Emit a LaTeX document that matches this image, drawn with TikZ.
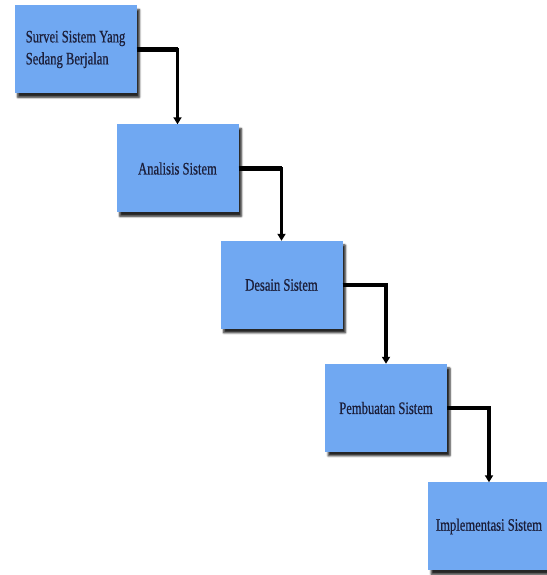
\documentclass[tikz,border=0pt]{standalone}
\usepackage{fontspec}
\setmainfont[FakeStretch=0.72,FakeBold=0.6]{Liberation Serif}
\usetikzlibrary{shadows,arrows.meta,shadows.blur}
\definecolor{stepfill}{HTML}{70A8F2}
\definecolor{steptext}{HTML}{1C1F3A}
\tikzset{
  stepbox/.style={draw=none, fill=stepfill, minimum width=122pt, minimum height=88pt,
    inner sep=0pt, align=center, font=\fontsize{17.5}{22}\selectfont\color{steptext},
    blur shadow={shadow xshift=3pt, shadow yshift=-4pt, shadow blur steps=6, shadow opacity=85, shadow blur extra rounding=0.5pt}},
  flow/.style={line width=3.2pt, -{Triangle[width=8pt,length=7pt]}, black},
  flowbar/.style={line width=4.5pt, black}
}
\begin{document}
\begin{tikzpicture}[x=1pt,y=1pt]
\useasboundingbox (0,0) rectangle (546,575);
\node[stepbox, align=left] (s1) at (75.5,525.5) {Survei Sistem Yang\\Sedang Berjalan};
\node[stepbox] (s2) at (177.5,406.5) {Analisis Sistem};
\node[stepbox] (s3) at (281.5,290) {Desain Sistem};
\node[stepbox] (s4) at (386,167) {Pembuatan Sistem};
\node[stepbox] (s5) at (489,48.5) {Implementasi Sistem};
% elbow connectors, with a heavier horizontal leg
\foreach \a/\b in {s1/s2, s2/s3, s3/s4, s4/s5}{
  \draw[flow] (\a.east) -| (\b.north);
  \draw[flowbar] (\a.east) -- (\a.east -| \b.north);
}
\end{tikzpicture}
\end{document}
